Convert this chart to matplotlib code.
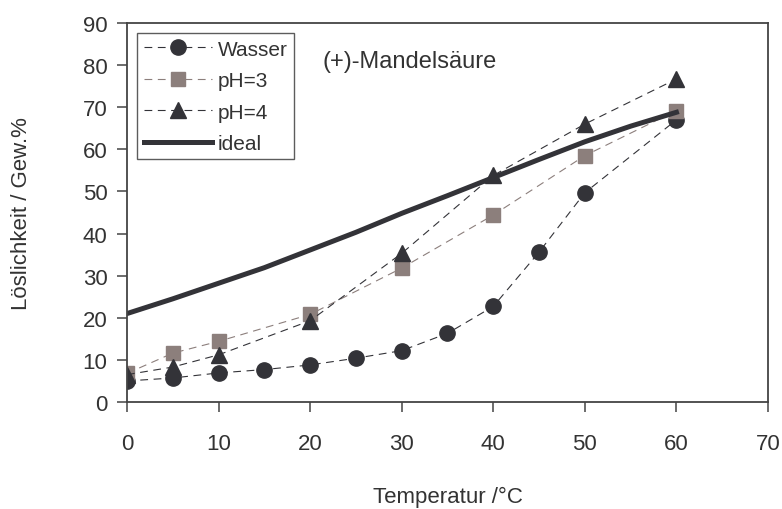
import matplotlib
matplotlib.use("Agg")
import matplotlib.pyplot as plt

plt.rcParams['font.family'] = ['Liberation Sans', 'DejaVu Sans']

# Daten
t_wasser = [0, 5, 10, 15, 20, 25, 30, 35, 40, 45, 50, 60]
wasser = [5.0, 5.7, 6.9, 7.7, 8.8, 10.4, 12.2, 16.3, 22.7, 35.6, 49.7, 67.0]

t_ph = [0, 5, 10, 20, 30, 40, 50, 60]
ph3 = [6.8, 11.6, 14.4, 20.8, 31.8, 44.4, 58.5, 69.2]
ph4 = [6.5, 8.3, 11.2, 19.3, 35.3, 53.8, 66.0, 76.7]

t_ideal = [0, 5, 10, 15, 20, 25, 30, 35, 40, 45, 50, 55, 60]
ideal = [21.0, 24.5, 28.2, 31.9, 36.1, 40.3, 44.8, 49.0, 53.3, 57.6, 61.8, 65.5, 68.8]

dark = '#333338'
grau = '#8c7f7c'
txt = '#333333'
dash = (0, (7, 5))

fig = plt.figure(figsize=(7.82, 5.1), dpi=100)
ax = fig.add_axes([127 / 782, 1 - 403 / 510, 641 / 782, 379 / 510])

ax.plot(t_wasser, wasser, ls=dash, lw=0.8, color=dark, marker='o',
        ms=11, mfc=dark, mec=dark, label='Wasser')
ax.plot(t_ph, ph3, ls=dash, lw=0.8, color=grau, marker='s',
        ms=10.5, mfc=grau, mec=grau, label='pH=3')
ax.plot(t_ph, ph4, ls=dash, lw=0.8, color=dark, marker='^',
        ms=12, mfc=dark, mec=dark, label='pH=4')
ax.plot(t_ideal, ideal, ls='-', lw=3.6, color=dark, label='ideal')

ax.set_xlim(0, 70)
ax.set_ylim(0, 90)
ax.set_xticks(range(0, 71, 10))
ax.set_yticks(range(0, 91, 10))
ax.tick_params(direction='out', length=7, width=1.1, labelsize=16,
               color='#444444', labelcolor=txt)
ax.tick_params(axis='x', pad=15)
ax.tick_params(axis='y', pad=7)
for s in ax.spines.values():
    s.set_color('#444444')
    s.set_linewidth(1.3)

ax.set_xlabel('Temperatur /°C', fontsize=16, color=txt)
ax.xaxis.set_label_coords(0.5, -0.248)
ax.xaxis.label.set_va('center')
ax.set_ylabel('Löslichkeit / Gew.%', fontsize=16, color=txt)
ax.yaxis.set_label_coords(-0.164, 0.5)
ax.yaxis.label.set_va('center')

ax.text(21.3, 81, '(+)-Mandelsäure', fontsize=17, va='center', ha='left', color=txt)

leg = ax.legend(loc='upper left', fontsize=15, frameon=True, fancybox=False,
                edgecolor='#333333', handlelength=3.3, handletextpad=0.25,
                borderpad=0.3, labelspacing=0.6, borderaxespad=0.5)
leg.get_frame().set_linewidth(1.0)
for t in leg.get_texts():
    t.set_color(txt)

fig.savefig('out.png', dpi=100)
